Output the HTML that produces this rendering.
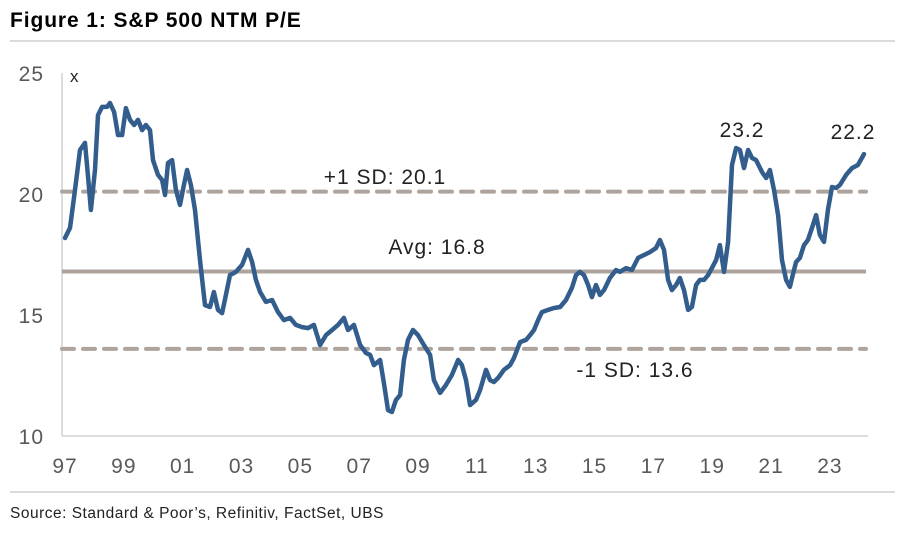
<!DOCTYPE html>
<html><head><meta charset="utf-8"><style>
body{margin:0;background:#fff;width:899px;height:538px;overflow:hidden;font-family:"Liberation Sans",sans-serif}
svg text{font-family:"Liberation Sans",sans-serif}
</style></head><body>
<svg id="c" width="899" height="538">
<text x="10" y="27" font-size="21" font-weight="bold" letter-spacing="0.9" fill="#000">Figure 1: S&amp;P 500 NTM P/E</text>
<line x1="10" y1="41" x2="895" y2="41" stroke="#cfcfcf" stroke-width="1.5"/>
<line x1="10" y1="492" x2="895" y2="492" stroke="#cfcfcf" stroke-width="1.5"/>
<text x="10" y="518" font-size="15.5" letter-spacing="0.5" fill="#222">Source: Standard &amp; Poor’s, Refinitiv, FactSet, UBS</text>
<g id="g"></g>
</svg>
<script>
const years=[1997.00,1997.17,1997.34,1997.51,1997.68,1997.78,1997.88,1998.02,1998.12,1998.26,1998.43,1998.53,1998.67,1998.80,1998.94,1999.07,1999.21,1999.35,1999.48,1999.62,1999.75,1999.89,1999.99,2000.16,2000.30,2000.40,2000.50,2000.64,2000.77,2000.91,2001.04,2001.15,2001.28,2001.42,2001.59,2001.76,2001.93,2002.06,2002.20,2002.34,2002.47,2002.61,2002.81,2003.02,2003.22,2003.36,2003.49,2003.63,2003.83,2004.04,2004.24,2004.44,2004.65,2004.85,2005.06,2005.26,2005.46,2005.67,2005.87,2006.08,2006.28,2006.48,2006.62,2006.82,2007.03,2007.23,2007.37,2007.50,2007.71,2007.84,2007.98,2008.11,2008.25,2008.39,2008.52,2008.66,2008.83,2009.00,2009.20,2009.41,2009.54,2009.75,2009.95,2010.15,2010.36,2010.49,2010.63,2010.77,2010.97,2011.11,2011.31,2011.45,2011.58,2011.72,2011.92,2012.13,2012.26,2012.47,2012.67,2012.81,2012.94,2013.08,2013.21,2013.42,2013.62,2013.83,2014.03,2014.23,2014.37,2014.50,2014.64,2014.78,2014.91,2015.05,2015.18,2015.32,2015.52,2015.73,2015.86,2016.07,2016.27,2016.48,2016.68,2016.88,2017.09,2017.22,2017.36,2017.50,2017.63,2017.77,2017.90,2018.04,2018.18,2018.31,2018.45,2018.58,2018.72,2018.86,2018.99,2019.13,2019.26,2019.40,2019.54,2019.67,2019.81,2019.94,2020.08,2020.22,2020.35,2020.49,2020.69,2020.83,2020.96,2021.10,2021.24,2021.37,2021.51,2021.64,2021.78,2021.85,2021.98,2022.12,2022.25,2022.39,2022.53,2022.66,2022.80,2022.93,2023.07,2023.21,2023.34,2023.55,2023.75,2023.95,2024.16];
const pe=[18.18,18.6,20.17,21.82,22.11,20.79,19.34,21.0,23.26,23.6,23.6,23.76,23.39,22.44,22.44,23.55,23.06,22.85,23.06,22.64,22.85,22.64,21.4,20.79,20.58,19.96,21.28,21.4,20.17,19.55,20.37,20.99,20.37,19.34,17.27,15.41,15.33,15.95,15.21,15.08,15.83,16.65,16.78,17.07,17.69,17.19,16.45,15.95,15.54,15.62,15.12,14.79,14.88,14.59,14.5,14.46,14.59,13.76,14.17,14.38,14.59,14.88,14.38,14.59,13.76,13.43,13.35,12.93,13.14,12.19,11.07,10.99,11.49,11.69,13.14,13.97,14.38,14.17,13.76,13.35,12.31,11.78,12.11,12.52,13.14,12.93,12.31,11.28,11.49,11.9,12.73,12.31,12.23,12.4,12.73,12.93,13.22,13.88,13.97,14.17,14.38,14.79,15.12,15.21,15.29,15.33,15.62,16.12,16.65,16.78,16.65,16.24,15.74,16.24,15.83,16.03,16.53,16.86,16.78,16.94,16.86,17.36,17.48,17.6,17.77,18.1,17.69,16.45,16.03,16.24,16.53,16.03,15.21,15.33,16.24,16.45,16.45,16.65,16.94,17.27,17.89,16.78,18.02,21.2,21.9,21.82,21.07,21.82,21.49,21.4,20.91,20.66,20.99,20.17,19.13,17.27,16.45,16.16,16.86,17.19,17.36,17.89,18.1,18.6,19.13,18.31,18.02,19.34,20.29,20.25,20.37,20.79,21.07,21.2,21.65];
const yTicks=[10,15,20,25];
const xTickYears=[1997,1999,2001,2003,2005,2007,2009,2011,2013,2015,2017,2019,2021,2023];
const xTickLabels=["97","99","01","03","05","07","09","11","13","15","17","19","21","23"];
const refValues=[20.1,16.8,13.6];
const refLabels=["+1 SD: 20.1","Avg: 16.8","-1 SD: 13.6"];
const peakLabels=["23.2","22.2"];

const NS="http://www.w3.org/2000/svg";
const g=document.getElementById('g');
const X=y=>65+(y-1997)*29.42;
const Y=v=>436-(v-10)*24.2;
function mk(t,a,p){const e=document.createElementNS(NS,t);for(const k in a)e.setAttribute(k,a[k]);(p||g).appendChild(e);return e;}

let ax=mk('line',{x1:62,y1:73,x2:62,y2:436,stroke:'#d0d0d0','stroke-width':1.5});


let bx=mk('line',{x1:62,y1:436,x2:868,y2:436,stroke:'#d0d0d0','stroke-width':1.5});


yTicks.forEach(v=>{const t=mk('text',{x:44,y:Y(v)+8,'text-anchor':'end','font-size':21,'letter-spacing':1,fill:'#595959'});t.textContent=v;

});
let ux=mk('text',{x:70,y:82,'font-size':17,fill:'#222'});ux.textContent='x';


xTickYears.forEach((yr,i)=>{const t=mk('text',{x:X(yr),y:473,'text-anchor':'middle','font-size':21,'letter-spacing':1,fill:'#595959'});t.textContent=xTickLabels[i];

});
const refNames=['plus-1sd-line','average-line','minus-1sd-line'];
refValues.forEach((v,i)=>{const a={x1:62,y1:Y(v),x2:866,y2:Y(v),stroke:'#aea49d','stroke-width':4};
if(i!==1){a['stroke-dasharray']='12,9';a['stroke-linecap']='round';}
const l=mk('line',a);

});
const lblPos=[[385,184],[437,254],[635,377]];
refLabels.forEach((s,i)=>{const t=mk('text',{x:lblPos[i][0],y:lblPos[i][1],'text-anchor':'middle','font-size':21,'letter-spacing':1,fill:'#222'});t.textContent=s;

});
let d=years.map((y,i)=>(i?'L':'M')+X(y).toFixed(1)+','+Y(pe[i]).toFixed(1)).join('');
const p=mk('path',{d:d,fill:'none',stroke:'#325d8c','stroke-width':4.5,'stroke-linejoin':'round','stroke-linecap':'round'});


const pk=[[742,137],[853,139]];
peakLabels.forEach((s,i)=>{const t=mk('text',{x:pk[i][0],y:pk[i][1],'text-anchor':'middle','font-size':21,'letter-spacing':1,fill:'#222'});t.textContent=s;

});
</script>
</body></html>
